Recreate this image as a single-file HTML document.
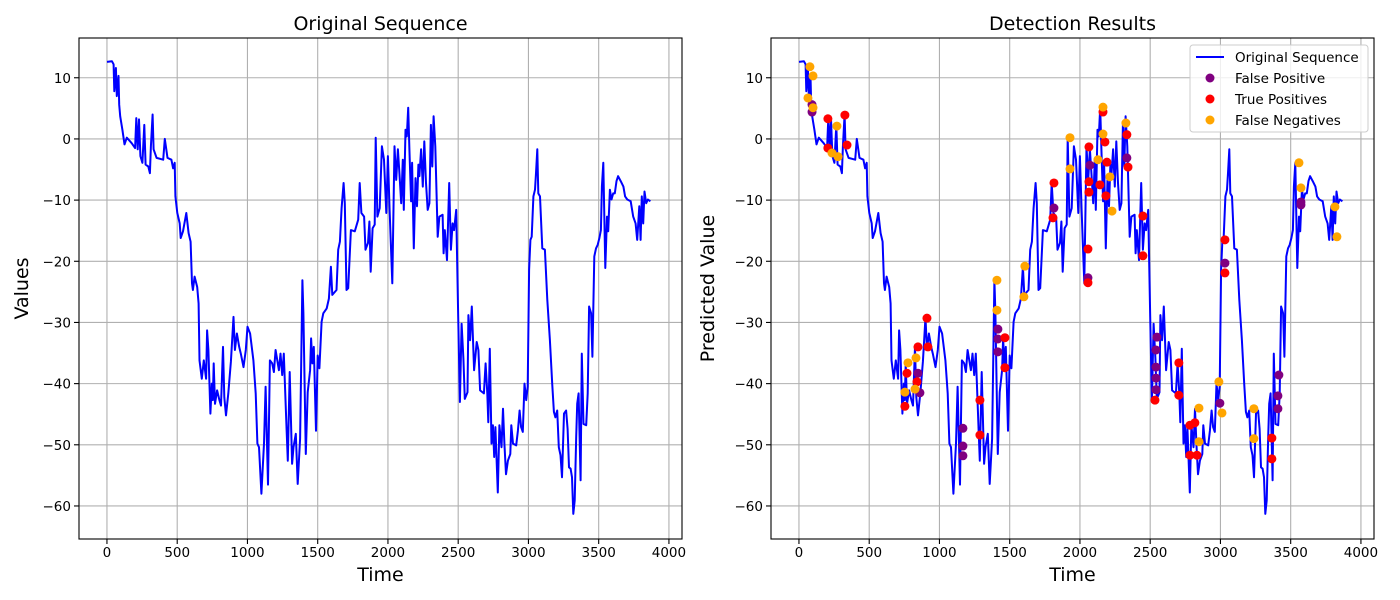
<!DOCTYPE html>
<html><head><meta charset="utf-8">
<style>
html,body{margin:0;padding:0;background:#fff;}
svg{display:block;font-family:"DejaVu Sans","Liberation Sans",sans-serif;}
</style></head>
<body>
<svg id="fig" width="1400" height="600" viewBox="0 0 1400 600" xmlns="http://www.w3.org/2000/svg"></svg>
<script>
const seqT=[0,35,47,52,64,70,82,87,94,110,125,141,176,200,209,219,228,238,252,266,275,294,306,313,325,332,353,400,412,431,459,471,482,487,501,518,525,541,565,581,595,605,612,624,642,652,659,675,689,706,713,722,736,746,753,760,769,784,800,812,826,835,847,864,882,901,911,925,941,953,972,988,1000,1019,1042,1059,1071,1082,1099,1118,1129,1146,1160,1176,1188,1200,1224,1235,1247,1259,1278,1287,1301,1318,1328,1344,1358,1375,1391,1398,1415,1429,1446,1453,1462,1472,1488,1500,1512,1528,1540,1564,1580,1594,1604,1634,1646,1658,1670,1684,1693,1705,1717,1736,1764,1788,1799,1811,1830,1840,1858,1868,1877,1891,1906,1913,1925,1941,1957,1972,1988,2000,2012,2031,2047,2059,2071,2082,2094,2106,2113,2125,2134,2144,2153,2165,2172,2184,2196,2207,2217,2224,2236,2248,2259,2271,2283,2295,2306,2316,2325,2337,2354,2366,2389,2396,2405,2420,2436,2448,2460,2471,2486,2500,2512,2524,2537,2547,2566,2573,2585,2597,2613,2632,2644,2656,2683,2695,2707,2714,2725,2737,2747,2756,2765,2782,2793,2808,2819,2829,2840,2854,2871,2878,2890,2913,2925,2937,2948,2960,2972,2984,2995,3005,3014,3023,3035,3047,3054,3063,3070,3082,3099,3117,3134,3153,3169,3181,3192,3205,3216,3228,3239,3253,3268,3279,3289,3300,3310,3319,3329,3340,3347,3357,3371,3380,3392,3411,3422,3432,3446,3455,3469,3481,3493,3505,3516,3523,3533,3547,3559,3568,3580,3591,3603,3615,3627,3638,3657,3676,3688,3704,3728,3746,3763,3774,3789,3798,3807,3817,3826,3838,3850,3868];
const seqV=[12.6,12.7,12.2,7.8,11.6,7,10.3,5.6,3.7,1.5,-0.9,0.2,-0.7,-1.5,3.4,-1.7,3.2,-2.8,-3.9,2.3,-4.2,-4.5,-5.6,-1.2,4.0,-1.7,-3.1,-3.4,0,-3.1,-3.4,-4.8,-3.9,-9.4,-12.1,-13.8,-16.2,-15.1,-12.1,-15.4,-16.8,-23.6,-24.7,-22.5,-24.2,-26.9,-36.2,-39.2,-36.2,-39.2,-31.3,-34.5,-44.9,-40,-42.7,-36.7,-43.3,-41.1,-42.7,-43.6,-34,-42.2,-45.2,-41.6,-36.4,-29.1,-34.5,-31.8,-34,-35.1,-37.3,-34.5,-30.7,-31.8,-36.2,-41.6,-49.8,-50.4,-58,-49.8,-40.5,-56.5,-36.2,-36.7,-38.1,-34.5,-37.8,-35.1,-38.6,-35.1,-47.1,-52.6,-38.1,-53.1,-50.4,-48.2,-56.4,-49,-23.1,-28.5,-51.5,-41.4,-37.8,-32.6,-36.7,-34,-47.7,-35.4,-37.5,-29.9,-28.5,-27.7,-26.1,-20.9,-25.5,-24.7,-18.1,-16.8,-11.3,-7.2,-10.5,-24.7,-24.4,-14.9,-15.1,-13.2,-7.2,-12.1,-12.7,-18.1,-17,-13.5,-21.7,-14.6,-14,0.2,-12.7,-11.3,-1.2,-3.4,-12.1,-2.8,-11.6,-23.6,-1.2,-6.7,-1.7,-5.8,-10.5,-3.4,-11.6,1.5,0.4,5.1,-1.7,-10.2,-3.9,-17.9,-6.4,-11,-4.2,-6.1,-1.7,-7.8,-0.4,-7.2,-11.6,-10.5,2.3,-4.5,3.7,-1.2,-16,-12.7,-12.4,-18.7,-14.9,-19.8,-7.2,-18.1,-13.8,-14.9,-11.6,-29.1,-43,-30.2,-35.9,-42.5,-41.4,-28.8,-32.9,-27.4,-37.8,-33.2,-34.5,-41.1,-41.6,-36.7,-41.6,-46.3,-34.3,-49.8,-46.8,-52,-47.1,-57.8,-46.8,-50.4,-44.1,-49.8,-54.8,-52.6,-51.5,-46.8,-49.8,-50.1,-47.7,-44.4,-47.1,-47.9,-40,-42.7,-40.5,-21.4,-16.5,-16,-9.4,-8.3,-5.6,-1.7,-8.9,-9.4,-17.9,-18.1,-26.3,-32.9,-40,-44.6,-45.5,-44.4,-50.4,-51.7,-55.3,-44.9,-44.4,-47.4,-53.7,-53.9,-55.3,-61.3,-59.1,-48.7,-43.3,-41.6,-55.8,-35.1,-46.6,-46.8,-41.6,-27.4,-28.5,-35.6,-19.2,-17.9,-17.3,-16.2,-14.9,-7.8,-3.9,-21.1,-12.7,-15.1,-8.3,-9.9,-8.9,-8.9,-6.9,-6.1,-6.9,-7.8,-9.4,-9.9,-10.2,-12.7,-13.8,-16.5,-11,-16.5,-9.4,-13.8,-8.6,-10.5,-9.9,-10.2];
const fpT=[93,93,847,861,1167,1167,1167,1416,1416,1416,1815,2057,2071,2334,3032,2548,2541,2541,2541,2541,2996,3416,3409,3409,3573,3573];
const fpV=[4.4,5.6,-38.3,-41.5,-47.3,-50.2,-51.8,-31.1,-32.7,-34.8,-11.3,-22.7,-4.3,-3.1,-20.3,-32.4,-34.5,-37.3,-39.1,-41,-43.2,-38.6,-42,-44.1,-10.3,-10.8];
const tpT=[206,327,342,206,769,754,847,918,911,840,1288,1288,1466,1466,1815,1808,2064,2057,2057,2164,2178,2192,2064,2064,2142,2185,2342,2334,2448,2448,3032,3032,2534,2704,2704,2783,2818,2783,2833,3366,3366];
const tpV=[3.3,3.9,-1,-1.5,-38.3,-43.7,-34,-34,-29.3,-39.7,-42.7,-48.4,-32.5,-37.4,-7.2,-12.9,-1.3,-18,-23.5,4.4,-0.5,-3.8,-7,-8.7,-7.5,-9.3,-4.6,0.7,-12.6,-19.1,-16.5,-21.9,-42.7,-36.6,-41.9,-46.8,-46.4,-51.7,-51.7,-48.9,-52.3];
const fnT=[78,100,64,100,270,235,278,776,833,754,826,1409,1409,1608,1601,1929,1929,2164,2164,2327,2228,2128,2213,2989,3011,2847,2847,3238,3238,3573,3559,3815,3829];
const fnV=[11.8,10.3,6.7,5.1,2.1,-2.3,-2.9,-36.6,-35.8,-41.4,-40.9,-23.1,-28,-20.8,-25.8,0.2,-4.9,5.2,0.8,2.6,-11.8,-3.4,-6.2,-39.7,-44.8,-44,-49.5,-44.1,-49,-8,-3.9,-11.1,-16];
const xTicks=[0,500,1000,1500,2000,2500,3000,3500,4000];
const yTicks=[10,0,-10,-20,-30,-40,-50,-60];

const NS="http://www.w3.org/2000/svg";
const svg=document.getElementById('fig');
function mk(tag,attrs,parent){const e=document.createElementNS(NS,tag);for(const k in attrs)e.setAttribute(k,attrs[k]);(parent||svg).appendChild(e);return e;}
const T0=-199,T1=4093,V0=-65.4,V1=16.5,TOP=38,BOT=539;
function panel(left,right,title,ylab,withMarkers,prefix){
  const g=mk('g',{});
  
  
  const xs=t=>left+(t-T0)/(T1-T0)*(right-left);
  const ys=v=>BOT-(v-V0)/(V1-V0)*(BOT-TOP);
  const grid=mk('g',{},g);
  
  
  xTicks.forEach(t=>{const x=xs(t);
    mk('line',{x1:x,x2:x,y1:TOP,y2:BOT,stroke:'#b0b0b0','stroke-width':1.1},grid);
    mk('line',{x1:x,x2:x,y1:BOT,y2:BOT+5,stroke:'#000','stroke-width':1.1},g);
    const tx=mk('text',{x:x,y:BOT+18,'text-anchor':'middle','font-size':13.5,fill:'#000'},g);
    tx.textContent=(t<0?'\u2212'+(-t):t);
    
    
  });
  yTicks.forEach(v=>{const y=ys(v);
    mk('line',{x1:left,x2:right,y1:y,y2:y,stroke:'#b0b0b0','stroke-width':1.1},grid);
    mk('line',{x1:left-5,x2:left,y1:y,y2:y,stroke:'#000','stroke-width':1.1},g);
    const tx=mk('text',{x:left-8,y:y+5,'text-anchor':'end','font-size':13.5,fill:'#000'},g);
    tx.textContent=(v<0?'\u2212'+(-v):v);
    
    
  });
  let d='';seqT.forEach((t,i)=>{d+=(i?'L':'M')+xs(t).toFixed(1)+' '+ys(seqV[i]).toFixed(1);});
  const ln=mk('path',{d:d,fill:'none',stroke:'#0000ff','stroke-width':2,'stroke-linejoin':'round'},g);
  
  
  if(withMarkers){
    const sets=[[fpT,fpV,'#800080','false-positive-point'],[tpT,tpV,'#ff0000','true-positive-point'],[fnT,fnV,'#ffa500','false-negative-point']];
    sets.forEach(s=>{s[0].forEach((t,i)=>{
      const c=mk('circle',{cx:xs(t),cy:ys(s[1][i]),r:4.5,fill:s[2]},g);
      
      
    });});
  }
  const fr=mk('rect',{x:left,y:TOP,width:right-left,height:BOT-TOP,fill:'none',stroke:'#000','stroke-width':1.1},g);
  
  
  const ti=mk('text',{x:(left+right)/2,y:TOP-8,'text-anchor':'middle','font-size':19,fill:'#000'},g);
  ti.textContent=title;
  
  
  const xl=mk('text',{x:(left+right)/2,y:581,'text-anchor':'middle','font-size':19,fill:'#000'},g);
  xl.textContent='Time';
  
  
  const yx=left-(ylab.length>10?57:51), yc=(TOP+BOT)/2;
  const yl=mk('text',{x:yx,y:yc,'text-anchor':'middle','font-size':19,fill:'#000',transform:'rotate(-90 '+yx+' '+yc+')'},g);
  yl.textContent=ylab;
  
  
  return g;
}
panel(79,682,'Original Sequence','Values',false,'left');
panel(771,1374,'Detection Results','Predicted Value',true,'right');

const lg=mk('g',{});


mk('rect',{x:1190,y:45,width:178,height:87,rx:3,fill:'#fff','fill-opacity':0.8,stroke:'#cccccc','stroke-width':1},lg);
const entries=[['line','#0000ff','Original Sequence'],['dot','#800080','False Positive'],['dot','#ff0000','True Positives'],['dot','#ffa500','False Negatives']];
entries.forEach((e,i)=>{
  const y=57+i*21;
  const eg=mk('g',{},lg);
  
  
  if(e[0]==='line')mk('line',{x1:1196,x2:1224,y1:y,y2:y,stroke:e[1],'stroke-width':2},eg);
  else mk('circle',{cx:1210,cy:y,r:4.5,fill:e[1]},eg);
  const t=mk('text',{x:1235,y:y+5,'font-size':13.5,fill:'#000'},eg);
  t.textContent=e[2];
});
</script>
</body></html>
